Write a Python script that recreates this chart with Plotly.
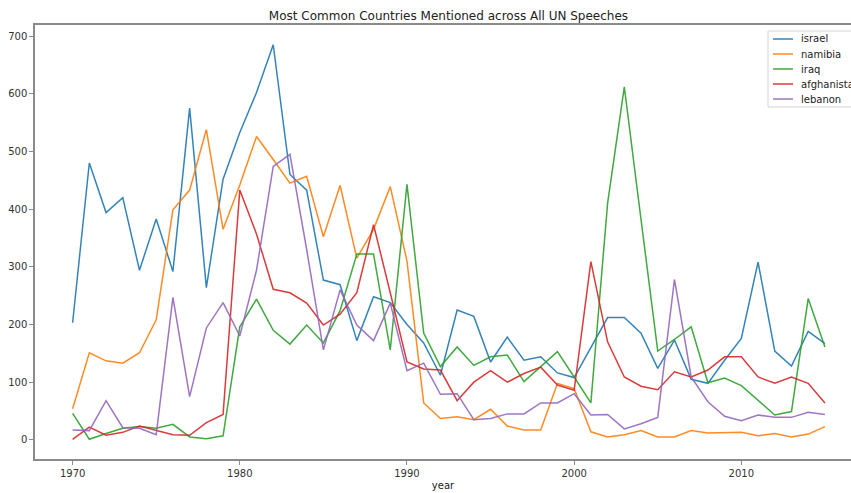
import plotly.graph_objects as go

years = list(range(1970, 2016))

israel = [203, 480, 394, 420, 294, 383, 292, 575, 264, 452,
          533, 602, 685, 460, 433, 277, 269, 172, 248, 238,
          200, 168, 112, 225, 214, 135, 178, 138, 144, 116,
          108, 159, 212, 212, 185, 124, 173, 105, 98, 138,
          176, 308, 154, 128, 188, 167]
namibia = [54, 151, 137, 133, 151, 208, 399, 433, 538, 365,
           442, 526, 486, 445, 457, 352, 441, 315, 365, 439,
           310, 64, 37, 40, 35, 53, 24, 17, 17, 98,
           89, 14, 5, 9, 16, 5, 5, 16, 12, 12,
           13, 7, 11, 5, 10, 23]
iraq = [46, 1, 11, 20, 23, 20, 27, 5, 2, 7,
        196, 244, 190, 166, 199, 168, 224, 322, 322, 156,
        443, 185, 127, 161, 129, 144, 147, 101, 127, 153,
        109, 64, 410, 612, 382, 154, 174, 196, 99, 107,
        94, 69, 43, 49, 245, 161]
afghanistan = [1, 22, 8, 13, 24, 17, 9, 8, 30, 44,
               433, 357, 261, 255, 237, 199, 218, 255, 373, 255,
               135, 123, 121, 68, 100, 120, 100, 115, 126, 95,
               86, 309, 170, 109, 93, 87, 118, 109, 121, 144,
               144, 109, 98, 109, 98, 64]
lebanon = [17, 16, 68, 21, 20, 9, 247, 75, 194, 238,
           180, 294, 474, 495, 330, 156, 260, 199, 172, 237,
           120, 133, 79, 80, 35, 37, 45, 45, 64, 64,
           80, 43, 44, 19, 28, 39, 278, 109, 66, 41,
           33, 43, 39, 39, 48, 44]

series_names = ["israel", "namibia", "iraq", "afghanistan", "lebanon"]
series_values = [israel, namibia, iraq, afghanistan, lebanon]
series_colors = ["#1f77b4", "#ff7f0e", "#2ca02c", "#d62728", "#9467bd"]

x_ticks = [1970, 1980, 1990, 2000, 2010]
y_ticks = [0, 100, 200, 300, 400, 500, 600, 700]

FONT = "DejaVu Sans, sans-serif"
AXIS_GREY = "#8a8a8a"
W, H = 851, 493
ML, MR, MT, MB = 35, 0, 25, 34

fig = go.Figure()
for name, vals, col in zip(series_names, series_values, series_colors):
    fig.add_trace(go.Scatter(x=years, y=vals, mode="lines", name=name,
                             line=dict(color=col, width=1.5), opacity=0.9,
                             showlegend=False))

# matplotlib-style 5% padding around the data
all_vals = [v for s in series_values for v in s]
lo, hi = min(all_vals), max(all_vals)
pad_y = 0.05 * (hi - lo)
pad_x = 0.05 * (years[-1] - years[0])


def px_x(px):
    return (px - ML) / (W - ML - MR)


def px_y(py):
    return (H - MB - py) / (H - MT - MB)


# legend box in the upper right corner, running past the right edge
shapes = [dict(type="rect", xref="paper", yref="paper", layer="above",
               x0=px_x(768), x1=px_x(880), y0=px_y(107), y1=px_y(31),
               fillcolor="rgba(255,255,255,0.85)",
               line=dict(color="#d4d4d4", width=1))]
annotations = []
for i, (name, col) in enumerate(zip(series_names, series_colors)):
    yy = px_y(39 + 15 * i)
    shapes.append(dict(type="line", xref="paper", yref="paper", layer="above",
                       x0=px_x(773), x1=px_x(793), y0=yy, y1=yy,
                       line=dict(color=col, width=1.5), opacity=0.9))
    annotations.append(dict(text=name, xref="paper", yref="paper",
                            x=px_x(799), y=yy, xanchor="left", yanchor="middle",
                            showarrow=False,
                            font=dict(family=FONT, size=10, color="#222222")))

fig.update_layout(
    width=W, height=H,
    margin=dict(l=ML, r=MR, t=MT, b=MB, autoexpand=False),
    paper_bgcolor="white", plot_bgcolor="white",
    font=dict(family=FONT, size=10, color="#333333"),
    title=dict(text="Most Common Countries Mentioned across All UN Speeches",
               x=0.527, xref="container", xanchor="center",
               y=0.968, yref="container", yanchor="middle",
               font=dict(family=FONT, size=12, color="#222222")),
    showlegend=False,
    shapes=shapes,
    annotations=annotations,
)
fig.update_xaxes(
    range=[years[0] - pad_x, years[-1] + pad_x - 0.69],
    tickmode="array", tickvals=x_ticks, ticktext=[str(t) for t in x_ticks],
    showgrid=False, zeroline=False,
    showline=True, linecolor=AXIS_GREY, linewidth=1.5, mirror=True,
    ticks="outside", ticklen=4, tickcolor=AXIS_GREY,
    title=dict(text="year", standoff=4, font=dict(family=FONT, size=10, color="#222222")),
)
fig.update_yaxes(
    range=[lo - pad_y, hi + pad_y],
    tickmode="array", tickvals=y_ticks, ticktext=[str(t) for t in y_ticks],
    showgrid=False, zeroline=False,
    showline=True, linecolor=AXIS_GREY, linewidth=1.5,
    ticks="outside", ticklen=4, tickcolor=AXIS_GREY,
)

fig.write_html("out.html")
